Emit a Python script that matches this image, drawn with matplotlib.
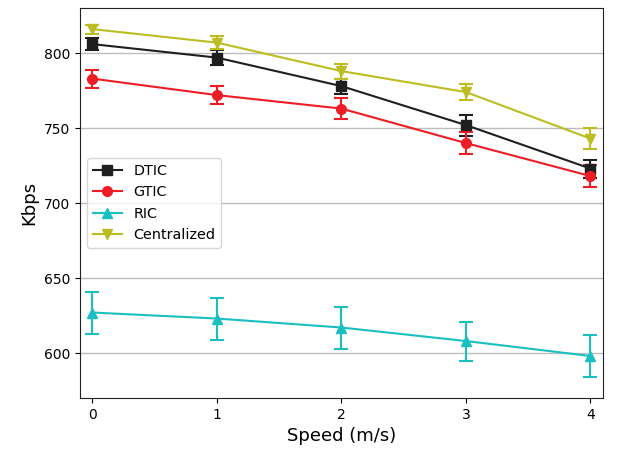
import matplotlib
matplotlib.use("Agg")
import matplotlib.pyplot as plt

speed = [0, 1, 2, 3, 4]
dtic = [806, 797, 778, 752, 723]
dtic_err = [4, 5, 5, 7, 6]
gtic = [783, 772, 763, 740, 718]
gtic_err = [6, 6, 7, 7.5, 7.5]
ric = [627, 623, 617, 608, 598]
ric_err = [14, 14, 14, 13, 14]
cent = [816, 807, 788, 774, 743]
cent_err = [3, 4.5, 5, 5.5, 7]

fig = plt.figure(figsize=(6.19, 4.51), dpi=100)
ax = fig.add_axes([0.129, 0.1175, 0.845, 0.8645])

kw = dict(linewidth=1.5, markersize=7, capsize=5, elinewidth=1.5, capthick=1.5)
c1 = ax.errorbar(speed, dtic, yerr=dtic_err, color='#1f1f1f', marker='s', label='DTIC', **kw)
c2 = ax.errorbar(speed, gtic, yerr=gtic_err, color='#ee1c25', marker='o', label='GTIC', **kw)
c3 = ax.errorbar(speed, ric, yerr=ric_err, color='#1abfbf', marker='^', label='RIC', **kw)
c4 = ax.errorbar(speed, cent, yerr=cent_err, color='#bcbd22', marker='v', label='Centralized', **kw)

ax.set_xlim(-0.1, 4.1)
ax.set_ylim(570, 830)
ax.set_xticks(speed)
ax.set_yticks([600, 650, 700, 750, 800])
ax.yaxis.grid(True, color='#bdbdbd', linewidth=1)
ax.set_axisbelow(True)
for s in ax.spines.values():
    s.set_color('#222222')
ax.tick_params(labelsize=10)
ax.set_xlabel('Speed (m/s)', fontsize=13)
ax.set_ylabel('Kbps', fontsize=13)
handles = [c.lines[0] for c in (c1, c2, c3, c4)]
ax.legend(handles, ['DTIC', 'GTIC', 'RIC', 'Centralized'], loc='center left', fontsize=10.4)

fig.savefig('out.png', dpi=100)
